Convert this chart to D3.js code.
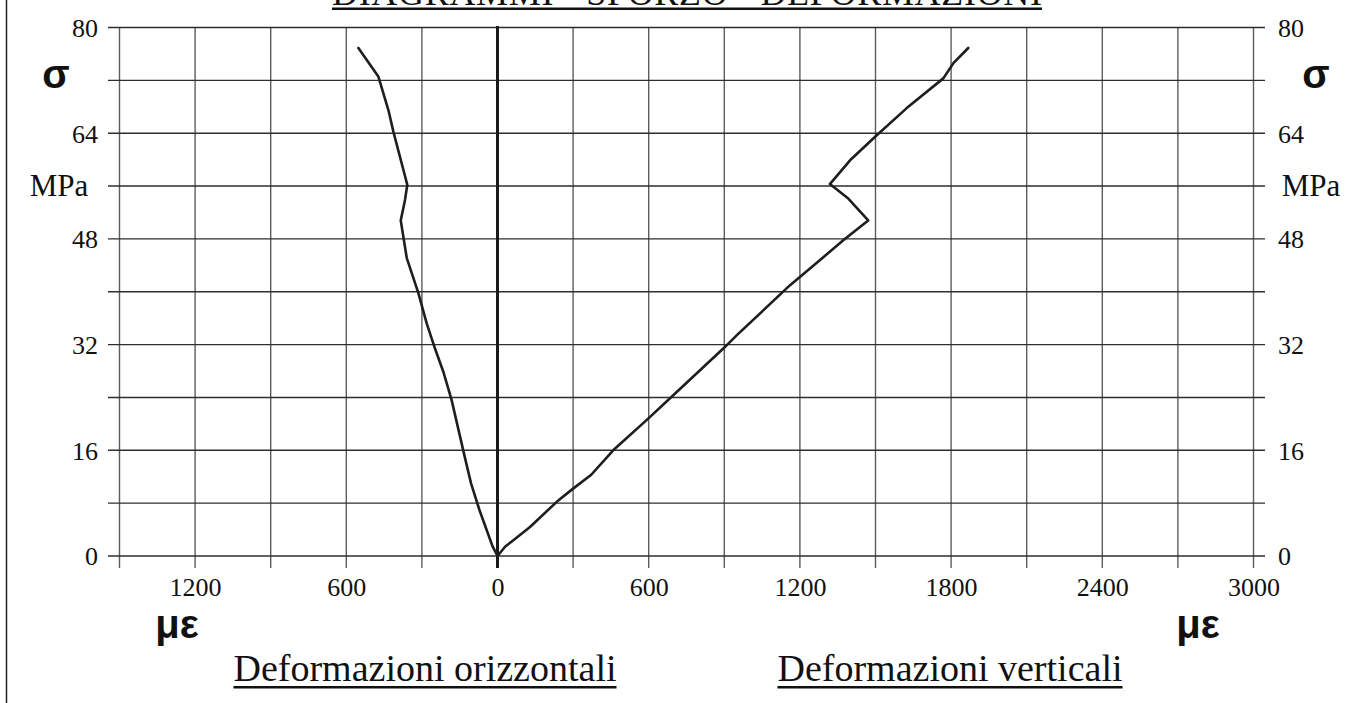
<!DOCTYPE html>
<html>
<head>
<meta charset="utf-8">
<script src="https://cdn.jsdelivr.net/npm/d3@7"></script>
<style>
  html, body { margin: 0; padding: 0; background: #fff; }
  svg { display: block; }
</style>
</head>
<body>
<svg id="chart" width="1354" height="703"></svg>
<script>
// Stress (MPa) vs. strain (microstrain) — lateral strain plotted to the left of zero
const sigmaHorizontal = [0, 1.5, 7, 11, 15, 23.6, 27.9, 31.4, 35.2, 39.8, 45.1, 50.8, 53.9, 56.2, 64.2, 67.5, 72.6, 76.9];
const strainHorizontal = [0, -20, -72, -105, -130, -182, -215, -248, -281, -314, -360, -384, -367, -358, -413, -433, -473, -552];

const sigmaVertical = [0, 1.4, 2.4, 4.4, 8.2, 10.2, 12.3, 16.0, 20.8, 24.1, 31.4, 33.5, 41.0, 44.8, 47.8, 50.8, 54.1, 56.3, 59.9, 63.7, 67.8, 72.3, 74.6, 76.9];
const strainVertical = [0, 30, 63, 129, 235, 300, 372, 459, 598, 691, 896, 952, 1161, 1280, 1372, 1471, 1392, 1319, 1399, 1505, 1624, 1769, 1809, 1868];

const xTickValues = [-1200, -600, 0, 600, 1200, 1800, 2400, 3000];
const yTickValues = [0, 16, 32, 48, 64, 80];
const xGridValues = d3.range(-1500, 3001, 300);
const yGridValues = d3.range(0, 81, 8);

const titleText = "DIAGRAMMI - SFORZO - DEFORMAZIONI";
const leftCaption = "Deformazioni orizzontali";
const rightCaption = "Deformazioni verticali";

const svg = d3.select("#chart");
const serif = "'Liberation Serif', 'Times New Roman', serif";
const sans = "'Liberation Sans', Arial, sans-serif";

const x = d3.scaleLinear().domain([-1500, 3000]).range([119.5, 1253.5]);
const y = d3.scaleLinear().domain([0, 80]).range([556, 27.5]);

// page frame on the left
svg.append("line").attr("x1", 6.5).attr("x2", 6.5).attr("y1", 0).attr("y2", 703)
  .attr("stroke", "#222").attr("stroke-width", 1.5);

// title (top edge cut by the page)
svg.append("text")
  .attr("x", 687).attr("y", 5)
  .attr("text-anchor", "middle")
  .attr("font-family", serif).attr("font-size", 36)
  .attr("textLength", 710).attr("lengthAdjust", "spacing")
  .attr("fill", "#111")
  .text(titleText);
svg.append("rect").attr("x", 332).attr("y", 7.5).attr("width", 710).attr("height", 2.5).attr("fill", "#111");

// grid
const grid = svg.append("g");
grid.selectAll("line.v").data(xGridValues).join("line")
  .attr("class", "v")
  .attr("x1", d => x(d)).attr("x2", d => x(d))
  .attr("y1", y(80)).attr("y2", y(0) + 12)
  .attr("stroke", "#5c5c5c").attr("stroke-width", 1.4);
grid.selectAll("line.h").data(yGridValues).join("line")
  .attr("class", "h")
  .attr("x1", x(-1500) - 11.5).attr("x2", x(3000) + 11.5)
  .attr("y1", d => y(d)).attr("y2", d => y(d))
  .attr("stroke", "#2e2e2e").attr("stroke-width", 1.4);

// zero axis
svg.append("line")
  .attr("x1", x(0)).attr("x2", x(0))
  .attr("y1", y(80) - 1.5).attr("y2", y(0) + 12)
  .attr("stroke", "#1a1a1a").attr("stroke-width", 3);

// y axes (labels only)
const yLeft = svg.append("g").attr("transform", `translate(${x(-1500) - 11.5},0)`)
  .call(d3.axisLeft(y).tickValues(yTickValues).tickSize(0).tickPadding(10).tickFormat(d3.format("d")));
const yRight = svg.append("g").attr("transform", `translate(${x(3000) + 11.5},0)`)
  .call(d3.axisRight(y).tickValues(yTickValues).tickSize(0).tickPadding(13).tickFormat(d3.format("d")));
[yLeft, yRight].forEach(g => {
  g.select(".domain").remove();
  g.selectAll("text").attr("font-family", serif).attr("font-size", 26).attr("fill", "#111").attr("dy", "0.34em");
});

// x axis (labels only, magnitude on both sides)
const xAxis = svg.append("g").attr("transform", `translate(0,${y(0)})`)
  .call(d3.axisBottom(x).tickValues(xTickValues).tickSize(0).tickPadding(0).tickFormat(d => Math.abs(d)));
xAxis.select(".domain").remove();
xAxis.selectAll("text").attr("font-family", serif).attr("font-size", 26).attr("fill", "#111")
  .attr("y", 40).attr("dy", 0);

// unit labels
const sigmaY = y(72), mpaY = y(56);
svg.append("text").attr("x", 56).attr("y", sigmaY + 8).attr("text-anchor", "middle")
  .attr("font-family", sans).attr("font-weight", "bold").attr("font-size", 40).attr("fill", "#111").text("σ");
svg.append("text").attr("x", 1316).attr("y", sigmaY + 8).attr("text-anchor", "middle")
  .attr("font-family", sans).attr("font-weight", "bold").attr("font-size", 40).attr("fill", "#111").text("σ");
svg.append("text").attr("x", 59).attr("y", mpaY + 10).attr("text-anchor", "middle")
  .attr("font-family", serif).attr("font-size", 31).attr("fill", "#111").text("MPa");
svg.append("text").attr("x", 1311).attr("y", mpaY + 10).attr("text-anchor", "middle")
  .attr("font-family", serif).attr("font-size", 31).attr("fill", "#111").text("MPa");

svg.append("text").attr("x", 177).attr("y", 638).attr("text-anchor", "middle")
  .attr("font-family", sans).attr("font-weight", "bold").attr("font-size", 40).attr("fill", "#111").text("με");
svg.append("text").attr("x", 1198).attr("y", 638).attr("text-anchor", "middle")
  .attr("font-family", sans).attr("font-weight", "bold").attr("font-size", 40).attr("fill", "#111").text("με");

// captions with underline
function caption(txt, left, right) {
  const t = svg.append("text").attr("x", (left + right) / 2).attr("y", 681)
    .attr("text-anchor", "middle").attr("font-family", serif).attr("font-size", 38)
    .attr("fill", "#111").text(txt);
  const bb = t.node().getBBox();
  svg.append("rect").attr("x", bb.x).attr("y", 686).attr("width", bb.width).attr("height", 2.5).attr("fill", "#111");
}
caption(leftCaption, 233, 617);
caption(rightCaption, 780, 1120);

// curves
const line = d3.line().x(d => x(d[0])).y(d => y(d[1]));
const horizontalPts = strainHorizontal.map((e, i) => [e, sigmaHorizontal[i]]);
const verticalPts = strainVertical.map((e, i) => [e, sigmaVertical[i]]);
[horizontalPts, verticalPts].forEach(pts => {
  svg.append("path").datum(pts).attr("d", line)
    .attr("fill", "none").attr("stroke", "#1e1e1e").attr("stroke-width", 2.6)
    .attr("stroke-linejoin", "round").attr("stroke-linecap", "round");
});
</script>
</body>
</html>
